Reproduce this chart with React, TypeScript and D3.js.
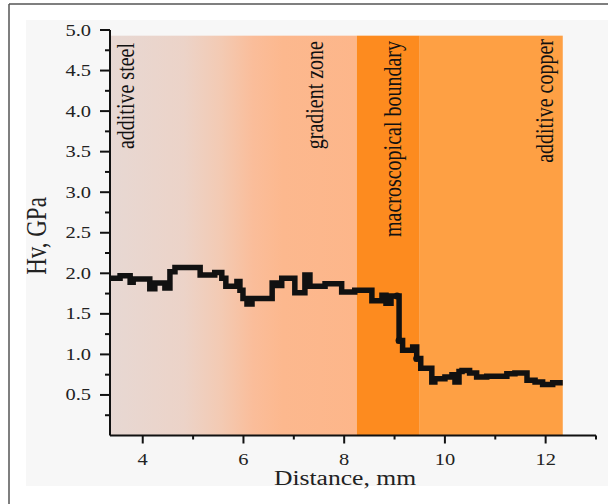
import React from "react";
import * as d3 from "d3";

const stepX = [3.35,3.55,3.75,3.81,4.14,4.24,4.44,4.54,4.64,5.14,5.43,5.57,5.65,5.87,5.93,5.99,6.07,6.17,6.57,6.67,6.76,7.02,7.22,7.32,7.62,7.95,8.21,8.55,8.75,8.83,8.93,9.09,9.16,9.36,9.44,9.52,9.74,9.80,10.00,10.14,10.20,10.28,10.34,10.49,10.63,10.83,11.23,11.39,11.63,11.79,11.94,12.14,12.34];
const stepY = [1.94,1.97,1.89,1.93,1.81,1.88,1.82,2.02,2.07,1.98,2.01,1.94,1.84,1.90,1.79,1.69,1.62,1.69,1.88,1.85,1.94,1.76,1.98,1.84,1.87,1.77,1.79,1.66,1.73,1.63,1.72,1.17,1.05,1.09,0.95,0.83,0.66,0.70,0.72,0.75,0.66,0.79,0.80,0.77,0.72,0.73,0.76,0.77,0.68,0.66,0.63,0.65,0.65];
const markX = [9.05, 9.09, 9.44];
const markY = [1.72, 1.17, 0.95];

const bandLabels = ["additive steel", "gradient zone", "macroscopical boundary", "additive copper"];
const bandStart = [3.35, 5.2, 8.25, 9.5];
const bandEnd = [5.2, 8.25, 9.5, 12.34];
const bandTop = 4.93;

const xTicksMajor = [4, 6, 8, 10, 12];
const xTicksMinor = [5, 7, 9, 11, 13];
const yTicksMajor = [0.5, 1.0, 1.5, 2.0, 2.5, 3.0, 3.5, 4.0, 4.5, 5.0];
const yTicksMinor = [0.25, 0.75, 1.25, 1.75, 2.25, 2.75, 3.25, 3.75, 4.25, 4.75];

const xTitle = "Distance, mm";
const yTitle = "Hv, GPa";

export default function App() {
  const W = 608, H = 504;
  const x = d3.scaleLinear().domain([3.35, 13]).range([110, 596]);
  const y = d3.scaleLinear().domain([0, 5]).range([435.5, 30]);
  const SX = 1.28;
  const font = "'Liberation Serif', 'Times New Roman', serif";

  const pts = stepX.map((v, i) => [v, stepY[i]] as [number, number]);
  const line = d3.line<[number, number]>().x(d => x(d[0])).y(d => y(d[1])).curve(d3.curveStepAfter);

  const yTop = y(bandTop);
  const y0 = y(0);
  const labelX = [
    x(bandStart[0]) + 24,
    x(bandEnd[1]) - 34,
    (x(bandStart[2]) + x(bandEnd[2])) / 2 + 13,
    x(bandEnd[3]) - 10,
  ];
  const labelY = [43, 41, 41, 39];

  return (
    <svg width={W} height={H} style={{ position: "absolute", left: 0, top: 0, display: "block" }}>
      <defs>
        <linearGradient id="steelGrad" gradientUnits="userSpaceOnUse" x1={x(bandStart[0])} x2={x(bandEnd[1])} y1={0} y2={0}>
          <stop offset="0" stopColor="#e7d8d3" />
          <stop offset="0.3" stopColor="#ecd3c8" />
          <stop offset="0.45" stopColor="#f3cab3" />
          <stop offset="0.58" stopColor="#fabd9a" />
          <stop offset="0.7" stopColor="#fcb88e" />
          <stop offset="1" stopColor="#fdb68a" />
        </linearGradient>
      </defs>
      <rect x={0} y={0} width={W} height={H} fill="#ffffff" />
      <rect x={26} y={20} width={W - 26} height={466} fill="#f7f7f7" />
      <line x1={9} x2={9} y1={4} y2={H} stroke="#555" strokeWidth={1.5} />
      <line x1={9} x2={W} y1={4} y2={4} stroke="#555" strokeWidth={1.5} />

      <rect x={x(bandStart[0])} y={yTop} width={x(bandEnd[1]) - x(bandStart[0])} height={y0 - yTop} fill="url(#steelGrad)" />
      <rect x={x(bandStart[2])} y={yTop} width={x(bandEnd[2]) - x(bandStart[2])} height={y0 - yTop} fill="#fd8b1f" />
      <rect x={x(bandStart[3])} y={yTop} width={x(bandEnd[3]) - x(bandStart[3])} height={y0 - yTop} fill="#fea044" />

      {bandLabels.map((t, i) => (
        <text key={t} transform={`translate(${labelX[i]},${labelY[i]}) scale(${SX},1) rotate(-90)`}
          textAnchor="end" fontFamily={font} fontSize={20} fill="#111">{t}</text>
      ))}

      <path d={line(pts) || ""} fill="none" stroke="#111" strokeWidth={5.5} strokeLinejoin="miter" />
      {markX.map((v, i) => (
        <circle key={i} cx={x(v)} cy={y(markY[i])} r={3.5} fill="#111" />
      ))}

      <line x1={x.range()[0]} x2={x.range()[0]} y1={y(5)} y2={y0} stroke="#111" strokeWidth={2} />
      <line x1={x.range()[0]} x2={x.range()[1]} y1={y0} y2={y0} stroke="#111" strokeWidth={2} />
      {yTicksMajor.map(t => (
        <g key={"ym" + t}>
          <line x1={x.range()[0] - 10} x2={x.range()[0]} y1={y(t)} y2={y(t)} stroke="#111" strokeWidth={2} />
          <text transform={`translate(91,${y(t) + 5.5}) scale(${SX},1)`} textAnchor="end" fontFamily={font} fontSize={16} fill="#222">{t.toFixed(1)}</text>
        </g>
      ))}
      {yTicksMinor.map(t => (
        <line key={"yn" + t} x1={x.range()[0] - 5} x2={x.range()[0]} y1={y(t)} y2={y(t)} stroke="#111" strokeWidth={2} />
      ))}
      {xTicksMajor.map(t => (
        <g key={"xm" + t}>
          <line x1={x(t)} x2={x(t)} y1={y0} y2={y0 + 8} stroke="#111" strokeWidth={2} />
          <text transform={`translate(${x(t)},465) scale(${SX},1)`} textAnchor="middle" fontFamily={font} fontSize={16} fill="#222">{t}</text>
        </g>
      ))}
      {xTicksMinor.map(t => (
        <line key={"xn" + t} x1={x(t)} x2={x(t)} y1={y0} y2={y0 + 4} stroke="#111" strokeWidth={2} />
      ))}

      <text transform={`translate(345,485) scale(${SX},1)`} textAnchor="middle" fontFamily={font} fontSize={20} fill="#222">{xTitle}</text>
      <text transform={`translate(46,236) scale(${SX},1) rotate(-90)`} textAnchor="middle" fontFamily={font} fontSize={23} fill="#222">{yTitle}</text>
    </svg>
  );
}
